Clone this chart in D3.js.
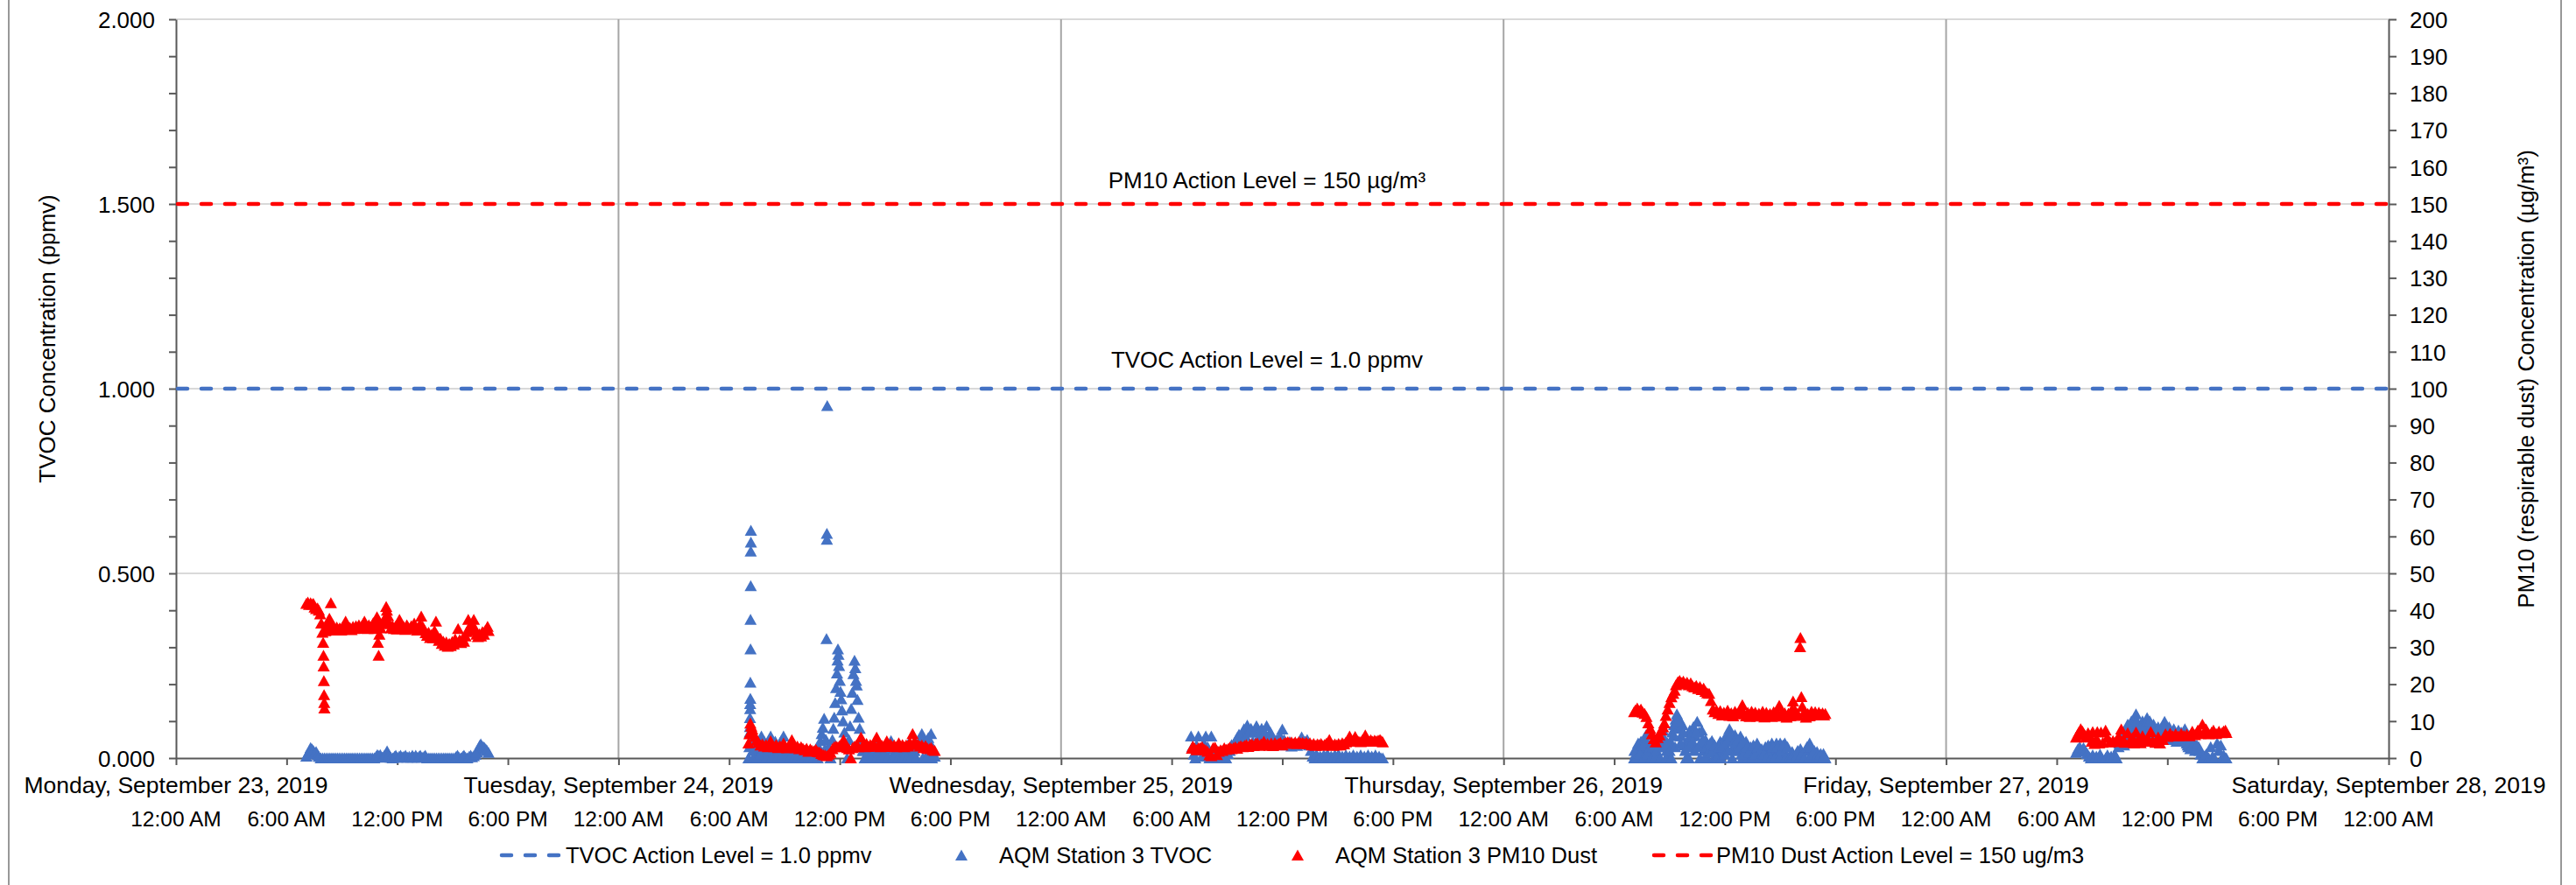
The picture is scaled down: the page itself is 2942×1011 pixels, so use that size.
<!DOCTYPE html>
<html>
<head>
<meta charset="utf-8">
<script src="https://cdn.jsdelivr.net/npm/d3@7"></script>
<style>
  body { margin: 0; background: #fff; }
  text { font-family: "Liberation Sans", Arial, sans-serif; }
</style>
</head>
<body>
<div id="chart"></div>
<script>
// days covered by the x axis (first = Monday 23)
var dayLabels = ["2019-09-23", "2019-09-24", "2019-09-25", "2019-09-26", "2019-09-27", "2019-09-28"];

// readings as [hour of day, value]; TVOC in ppmv, PM10 in ug/m3
var tvocMon = [[7.07,0.005],[7.15,0.012],[7.22,0.018],[7.30,0.028],[7.38,0.024],[7.45,0.020],[7.52,0.014],[7.60,0.017],[7.68,0.008],[7.75,0.004],[7.85,0],[7.95,0],[8.05,0],[8.15,0],[8.25,0],[8.35,0],[8.45,0],[8.55,0],[8.65,0],[8.75,0],[8.85,0],[8.95,0],[9.05,0],[9.15,0],[9.25,0],[9.35,0],[9.45,0],[9.55,0],[9.65,0],[9.75,0],[9.85,0],[9.95,0],[10.05,0],[10.15,0],[10.25,0],[10.35,0],[10.45,0],[10.55,0],[10.65,0],[10.75,0],[10.85,0.004],[10.92,0.009],[11.00,0.006],[11.08,0.009],[11.18,0.002],[11.28,0.006],[11.38,0.012],[11.45,0.019],[11.55,0.008],[11.65,0.002],[11.75,0],[11.85,0.004],[11.92,0.007],[12.00,0.002],[12.10,0.004],[12.18,0.007],[12.27,0.002],[12.35,0.004],[12.45,0.007],[12.55,0.002],[12.65,0.004],[12.75,0.002],[12.82,0.007],[12.90,0.002],[13.00,0.007],[13.10,0.002],[13.18,0.004],[13.25,0.007],[13.35,0.002],[13.45,0.004],[13.52,0.007],[13.62,0],[13.72,0],[13.82,0],[13.92,0],[14.02,0],[14.12,0],[14.22,0],[14.32,0],[14.42,0],[14.52,0],[14.62,0],[14.72,0],[14.82,0],[14.92,0],[15.02,0],[15.12,0],[15.20,0.004],[15.27,0.007],[15.35,0.002],[15.45,0],[15.55,0.004],[15.62,0.007],[15.70,0.002],[15.80,0],[15.90,0.004],[15.98,0.007],[16.05,0.003],[16.15,0.006],[16.25,0.010],[16.32,0.016],[16.40,0.025],[16.47,0.034],[16.53,0.038],[16.60,0.032],[16.67,0.030],[16.73,0.028],[16.80,0.024],[16.87,0.020],[16.95,0.015]];

var pm10Mon = [[7.07,41.8],[7.15,42.2],[7.22,41.5],[7.30,42.0],[7.38,41.6],[7.45,41.8],[7.52,40.8],[7.60,40.4],[7.68,40.6],[7.75,40.0],[7.82,39.0],[7.88,36.5],[7.94,34.0],[7.98,31.3],[8.00,27.8],[8.01,24.9],[8.02,20.9],[8.03,17.1],[8.04,15.0],[8.05,13.5],[8.10,34.4],[8.18,35.5],[8.25,36.6],[8.32,37.8],[8.40,42.0],[8.48,36.2],[8.55,35.0],[8.63,34.6],[8.72,35.4],[8.80,34.8],[8.88,35.2],[8.96,34.6],[9.04,35.5],[9.12,36.0],[9.20,37.0],[9.28,35.6],[9.36,34.9],[9.44,35.3],[9.52,34.7],[9.60,35.6],[9.68,35.0],[9.76,35.8],[9.84,35.1],[9.92,36.0],[10.00,35.2],[10.08,35.8],[10.16,36.4],[10.22,37.0],[10.30,35.5],[10.38,35.0],[10.46,36.0],[10.54,35.3],[10.62,35.8],[10.70,36.6],[10.78,35.0],[10.85,37.2],[10.90,38.2],[10.95,31.3],[10.99,27.8],[11.03,33.5],[11.10,35.2],[11.18,36.5],[11.26,37.0],[11.34,38.0],[11.40,41.0],[11.44,40.0],[11.50,38.5],[11.58,36.3],[11.66,35.2],[11.74,35.8],[11.82,35.0],[11.90,35.6],[11.98,34.9],[12.06,36.0],[12.12,37.5],[12.20,35.6],[12.28,35.0],[12.36,35.5],[12.44,34.8],[12.52,36.0],[12.60,35.3],[12.68,35.0],[12.76,35.8],[12.84,35.2],[12.92,36.5],[13.00,35.0],[13.08,34.6],[13.16,35.5],[13.24,36.2],[13.30,38.4],[13.38,35.6],[13.46,34.8],[13.54,33.9],[13.62,33.2],[13.70,34.0],[13.78,32.6],[13.86,33.4],[13.94,32.5],[14.02,34.5],[14.10,37.0],[14.18,33.0],[14.26,31.8],[14.34,32.4],[14.42,31.0],[14.50,31.6],[14.58,30.5],[14.66,31.4],[14.74,30.2],[14.82,31.0],[14.90,30.4],[14.98,31.5],[15.06,30.8],[15.14,32.2],[15.22,31.3],[15.30,35.0],[15.38,32.0],[15.46,31.2],[15.54,32.3],[15.62,31.6],[15.70,33.0],[15.78,34.2],[15.85,37.5],[15.92,35.5],[16.00,36.2],[16.08,34.5],[16.15,37.5],[16.22,35.0],[16.30,33.5],[16.38,32.8],[16.46,33.6],[16.54,33.0],[16.62,34.2],[16.70,33.5],[16.78,34.6],[16.86,35.0],[16.90,35.6],[16.95,34.5]];

var tvocTue = [[7.05,0.00],[7.10,0.03],[7.12,0.07],[7.13,0.085],[7.13,0.109],[7.14,0.133],[7.14,0.147],[7.15,0.161],[7.15,0.205],[7.16,0.295],[7.16,0.375],[7.17,0.466],[7.17,0.560],[7.18,0.584],[7.18,0.616],[7.22,0.05],[7.28,0.02],[7.35,0.045],[7.45,0.01],[7.55,0.03],[7.65,0.0],[7.75,0.059],[7.85,0.02],[7.95,0.0],[8.05,0.035],[8.15,0.01],[8.25,0.059],[8.35,0.015],[8.45,0.0],[8.55,0.03],[8.65,0.01],[8.75,0.035],[8.85,0.0],[8.95,0.059],[9.05,0.02],[9.15,0.0],[9.25,0.025],[9.35,0.0],[9.45,0.015],[9.55,0.0],[9.65,0.02],[9.75,0.0],[9.85,0.01],[9.95,0.0],[10.05,0.02],[10.15,0.0],[10.25,0.01],[10.35,0.0],[10.45,0.015],[10.55,0.0],[10.65,0.01],[10.75,0.0],[10.85,0.03],[10.95,0.047],[11.02,0.066],[11.08,0.083],[11.15,0.107],[11.20,0.025],[11.25,0.05],[11.28,0.323],[11.30,0.592],[11.30,0.608],[11.32,0.954],[11.40,0.03],[11.50,0.0],[11.60,0.05],[11.65,0.08],[11.70,0.11],[11.75,0.15],[11.80,0.19],[11.85,0.23],[11.88,0.265],[11.90,0.295],[11.93,0.28],[11.96,0.25],[12.00,0.21],[12.04,0.18],[12.08,0.16],[12.12,0.13],[12.18,0.10],[12.25,0.07],[12.32,0.04],[12.40,0.0],[12.50,0.05],[12.56,0.087],[12.62,0.134],[12.68,0.178],[12.74,0.228],[12.80,0.264],[12.84,0.244],[12.88,0.21],[12.92,0.197],[12.96,0.158],[13.02,0.11],[13.08,0.08],[13.15,0.05],[13.25,0.02],[13.35,0.0],[13.45,0.03],[13.55,0.0],[13.65,0.02],[13.75,0.025],[13.85,0.0],[13.95,0.015],[14.05,0.03],[14.15,0.0],[14.25,0.02],[14.35,0.0],[14.45,0.02],[14.55,0.0],[14.65,0.03],[14.78,0.047],[14.90,0.01],[15.00,0.0],[15.10,0.02],[15.20,0.03],[15.30,0.0],[15.40,0.01],[15.50,0.0],[15.60,0.02],[15.70,0.035],[15.80,0.01],[15.90,0.0],[16.00,0.02],[16.10,0.0],[16.20,0.03],[16.30,0.045],[16.45,0.066],[16.55,0.05],[16.65,0.03],[16.75,0.01],[16.85,0.045],[16.95,0.066],[17.05,0.02],[17.15,0.005],
  [7.30,0.0],[7.40,0.025],[7.50,0.0],[7.60,0.04],[7.70,0.01],[7.80,0.03],[7.90,0.045],[8.00,0.0],[8.10,0.02],[8.20,0.04],[8.30,0.0],[8.40,0.03],[8.50,0.045],[8.60,0.0],[8.70,0.02],[8.80,0.045],[8.90,0.01],[9.00,0.035],[9.10,0.0],[9.20,0.02],[9.30,0.0],[9.40,0.01],[9.50,0.0],[9.60,0.005],[9.70,0.0],[9.80,0.01],[9.90,0.0],[10.00,0.005],[10.10,0.0],[10.20,0.01],[10.30,0.0],[10.40,0.0],[10.50,0.01],[10.60,0.0],[10.70,0.02],[10.80,0.0],[13.30,0.02],[13.40,0.0],[13.50,0.015],[13.60,0.03],[13.70,0.0],[13.80,0.02],[13.90,0.035],[14.00,0.0],[14.10,0.02],[14.20,0.0],[14.30,0.03],[14.40,0.01],[14.50,0.025],[14.60,0.0],[14.70,0.035],[14.85,0.0],[14.95,0.03],[15.05,0.01],[15.15,0.0],[15.25,0.025],[15.35,0.0],[15.45,0.03],[15.55,0.01],[15.65,0.0],[15.75,0.04],[15.85,0.0],[15.95,0.03],[16.05,0.02],[16.15,0.0],[16.25,0.035],[16.40,0.05],[16.50,0.0],[16.60,0.04],[16.70,0.0],[16.80,0.055],[16.90,0.03],[17.00,0.0],[17.10,0.01]];

var pm10Tue = [[7.05,4.0],[7.10,6.5],[7.15,9.4],[7.20,8.6],[7.25,7.8],[7.30,6.8],[7.40,5.8],[7.50,4.8],[7.60,4.2],[7.70,3.5],[7.80,3.8],[7.90,3.2],[8.00,3.6],[8.10,3.0],[8.25,4.6],[8.35,3.4],[8.45,3.0],[8.55,3.6],[8.65,2.8],[8.75,3.3],[8.85,2.9],[8.95,4.0],[9.05,3.0],[9.15,2.7],[9.25,3.4],[9.40,4.9],[9.50,3.5],[9.60,2.8],[9.70,3.2],[9.80,2.5],[9.90,3.0],[10.00,2.6],[10.10,2.2],[10.20,2.6],[10.30,1.8],[10.40,2.4],[10.50,2.0],[10.60,1.9],[10.70,2.3],[10.80,1.7],[10.90,1.6],[11.00,1.2],[11.10,0.9],[11.20,0.8],[11.30,0.6],[11.40,1.0],[11.50,1.5],[11.60,2.5],[11.70,3.0],[11.80,3.2],[11.90,3.0],[12.00,3.4],[12.10,3.8],[12.20,4.9],[12.30,3.3],[12.40,2.8],[12.50,2.4],[12.60,0.0],[12.70,2.8],[12.80,3.2],[12.90,3.5],[13.00,3.0],[13.15,5.6],[13.25,3.4],[13.35,3.0],[13.45,3.9],[13.55,3.1],[13.65,3.6],[13.75,3.2],[13.85,3.7],[14.00,5.6],[14.10,3.5],[14.20,3.0],[14.30,3.4],[14.40,3.1],[14.55,4.6],[14.65,3.3],[14.75,3.8],[14.85,3.1],[14.95,3.5],[15.05,3.0],[15.20,4.1],[15.30,3.2],[15.40,3.6],[15.50,3.0],[15.60,3.5],[15.70,3.2],[15.80,4.2],[15.95,6.6],[16.05,4.5],[16.15,3.8],[16.25,3.6],[16.35,3.2],[16.45,3.5],[16.55,2.8],[16.65,3.3],[16.75,2.6],[16.85,2.5],[16.95,2.8],[17.05,2.2],[17.15,2.0]];

var tvocWed = [[7.05,0.059],[7.12,0.03],[7.20,0.01],[7.28,0.0],[7.35,0.035],[7.45,0.059],[7.55,0.02],[7.65,0.005],[7.75,0.04],[7.85,0.059],[7.95,0.03],[8.05,0.0],[8.15,0.059],[8.25,0.02],[8.35,0.0],[8.45,0.02],[8.55,0.0],[8.65,0.015],[8.75,0.0],[8.85,0.019],[8.95,0.0],[9.05,0.012],[9.15,0.02],[9.25,0.036],[9.35,0.03],[9.45,0.045],[9.55,0.055],[9.65,0.064],[9.75,0.05],[9.85,0.07],[9.92,0.079],[10.00,0.06],[10.10,0.089],[10.20,0.07],[10.30,0.08],[10.40,0.045],[10.50,0.07],[10.60,0.087],[10.70,0.055],[10.80,0.072],[10.88,0.08],[10.95,0.05],[11.05,0.068],[11.15,0.087],[11.25,0.06],[11.35,0.07],[11.45,0.059],[11.55,0.04],[11.62,0.045],[11.70,0.05],[11.80,0.04],[11.88,0.06],[12.00,0.078],[12.10,0.05],[12.20,0.035],[12.30,0.04],[12.40,0.044],[12.50,0.032],[12.60,0.036],[12.70,0.04],[12.80,0.034],[12.90,0.038],[13.05,0.057],[13.15,0.04],[13.25,0.045],[13.35,0.05],[13.45,0.035],[13.55,0.02],[13.65,0.005],[13.75,0.0],[13.85,0.01],[13.95,0.0],[14.05,0.005],[14.15,0.0],[14.25,0.008],[14.35,0.0],[14.45,0.01],[14.55,0.0],[14.65,0.005],[14.75,0.0],[14.85,0.008],[14.95,0.0],[15.05,0.01],[15.15,0.0],[15.25,0.005],[15.35,0.0],[15.45,0.008],[15.55,0.0],[15.65,0.005],[15.75,0.0],[15.85,0.008],[15.95,0.0],[16.05,0.005],[16.15,0.0],[16.25,0.008],[16.35,0.0],[16.45,0.005],[16.55,0.0],[16.65,0.008],[16.75,0.0],[16.85,0.005],[16.95,0.0],[17.05,0.008],[17.15,0.0],[17.25,0.005],[17.35,0.0],[17.45,0.0]];

var pm10Wed = [[7.10,2.6],[7.15,3.2],[7.25,2.6],[7.35,2.2],[7.45,2.7],[7.55,2.8],[7.65,3.0],[7.75,2.4],[7.85,2.2],[7.95,1.8],[8.05,0.8],[8.15,0.6],[8.25,2.8],[8.35,2.9],[8.45,0.9],[8.55,1.8],[8.65,2.2],[8.75,2.0],[8.85,2.7],[8.95,2.3],[9.05,2.5],[9.15,2.9],[9.25,2.5],[9.35,2.8],[9.45,3.0],[9.55,2.6],[9.65,3.1],[9.75,3.3],[9.85,3.0],[9.95,3.4],[10.05,3.6],[10.15,3.1],[10.25,3.7],[10.35,3.8],[10.45,3.3],[10.55,3.9],[10.65,4.0],[10.75,3.4],[10.85,3.8],[11.00,4.5],[11.10,3.6],[11.20,3.9],[11.30,3.4],[11.40,4.0],[11.50,3.3],[11.60,4.1],[11.70,3.6],[11.80,3.9],[11.90,4.2],[12.00,3.5],[12.10,4.0],[12.20,4.2],[12.30,4.4],[12.40,4.1],[12.50,4.3],[12.60,3.9],[12.70,4.3],[12.80,3.9],[12.90,4.4],[13.00,4.0],[13.10,4.2],[13.20,3.9],[13.30,4.2],[13.40,3.8],[13.50,4.1],[13.60,3.5],[13.70,3.9],[13.80,3.4],[13.90,3.8],[14.00,3.6],[14.10,3.9],[14.20,3.4],[14.30,3.7],[14.40,4.0],[14.55,5.0],[14.65,3.7],[14.75,3.4],[14.85,3.8],[14.95,3.5],[15.05,3.9],[15.15,3.5],[15.25,4.1],[15.35,3.8],[15.45,4.3],[15.55,4.6],[15.65,5.9],[15.75,4.8],[15.85,4.5],[15.95,5.8],[16.05,4.7],[16.15,4.5],[16.25,4.4],[16.35,4.9],[16.50,6.2],[16.60,4.6],[16.70,4.5],[16.80,4.9],[16.90,4.5],[17.00,4.8],[17.10,4.6],[17.20,4.8],[17.30,5.0],[17.38,4.6],[17.45,4.3]];

var tvocThu = [[7.08,0.0],[7.15,0.01],[7.25,0.03],[7.35,0.0],[7.45,0.045],[7.55,0.02],[7.65,0.055],[7.73,0.063],[7.85,0.03],[7.95,0.0],[8.05,0.04],[8.15,0.015],[8.25,0.05],[8.35,0.0],[8.45,0.03],[8.55,0.06],[8.65,0.075],[8.75,0.05],[8.85,0.02],[8.95,0.0],[9.05,0.045],[9.15,0.07],[9.25,0.09],[9.33,0.105],[9.40,0.119],[9.47,0.08],[9.55,0.103],[9.62,0.06],[9.70,0.09],[9.80,0.035],[9.90,0.0],[10.00,0.05],[10.10,0.075],[10.20,0.03],[10.30,0.085],[10.40,0.06],[10.50,0.099],[10.60,0.07],[10.68,0.04],[10.75,0.075],[10.85,0.02],[10.95,0.05],[11.05,0.0],[11.15,0.03],[11.30,0.047],[11.40,0.0],[11.50,0.025],[11.60,0.01],[11.75,0.045],[11.85,0.02],[11.95,0.05],[12.05,0.03],[12.15,0.065],[12.25,0.079],[12.35,0.05],[12.45,0.03],[12.55,0.063],[12.65,0.04],[12.75,0.02],[12.85,0.059],[12.95,0.0],[13.05,0.03],[13.15,0.045],[13.25,0.0],[13.40,0.03],[13.50,0.01],[13.60,0.025],[13.75,0.04],[13.85,0.02],[13.95,0.01],[14.05,0.0],[14.20,0.03],[14.30,0.015],[14.45,0.02],[14.55,0.04],[14.65,0.01],[14.80,0.04],[14.90,0.02],[15.00,0.04],[15.10,0.0],[15.25,0.04],[15.35,0.01],[15.50,0.0],[15.65,0.017],[15.75,0.0],[15.90,0.01],[16.10,0.025],[16.25,0.005],[16.40,0.02],[16.60,0.04],[16.70,0.02],[16.80,0.0],[16.90,0.01],[17.00,0.017],[17.10,0.0],[17.25,0.005],[17.35,0.012],[17.45,0.0],
  [7.10,0.02],[7.20,0.0],[7.30,0.04],[7.40,0.01],[7.50,0.035],[7.60,0.0],[7.70,0.045],[7.80,0.01],[7.90,0.025],[8.00,0.0],[8.10,0.03],[8.20,0.0],[8.30,0.02],[8.40,0.045],[8.50,0.0],[8.60,0.05],[8.70,0.03],[8.80,0.0],[8.90,0.04],[9.00,0.02],[9.10,0.0],[9.20,0.06],[9.30,0.03],[9.45,0.1],[9.60,0.04],[9.75,0.07],[9.85,0.02],[9.95,0.03],[10.05,0.0],[10.15,0.06],[10.25,0.045],[10.35,0.02],[10.45,0.07],[10.55,0.03],[10.65,0.0],[10.80,0.05],[10.90,0.0],[11.00,0.03],[11.10,0.015],[11.20,0.04],[11.35,0.02],[11.45,0.035],[11.55,0.0],[11.70,0.03],[11.80,0.0],[11.90,0.035],[12.00,0.01],[12.10,0.045],[12.20,0.02],[12.30,0.06],[12.40,0.0],[12.50,0.045],[12.60,0.02],[12.70,0.05],[12.80,0.03],[12.90,0.01],[13.00,0.045],[13.10,0.02],[13.20,0.03],[13.30,0.015],[13.45,0.0],[13.55,0.035],[13.65,0.01],[13.80,0.03],[13.90,0.0],[14.00,0.025],[14.10,0.01],[14.25,0.0],[14.35,0.035],[14.50,0.0],[14.60,0.03],[14.70,0.0],[14.85,0.03],[14.95,0.0],[15.05,0.02],[15.15,0.035],[15.30,0.0],[15.40,0.03],[15.55,0.005],[15.60,0.0],[15.70,0.01],[15.85,0.0],[15.95,0.02],[16.05,0.0],[16.15,0.01],[16.30,0.0],[16.45,0.03],[16.55,0.0],[16.65,0.03],[16.75,0.01],[16.85,0.02],[16.95,0.0],[17.05,0.01],[17.15,0.0],[17.20,0.012],[17.30,0.0],[17.40,0.005]];

var pm10Thu = [[7.08,12.5],[7.15,13.0],[7.25,13.5],[7.35,12.8],[7.45,13.2],[7.55,12.4],[7.65,12.0],[7.75,11.2],[7.85,9.5],[7.95,8.0],[8.05,6.5],[8.15,5.2],[8.25,4.3],[8.35,5.5],[8.45,6.2],[8.55,7.5],[8.65,8.4],[8.72,9.5],[8.80,11.5],[8.90,13.2],[9.00,15.0],[9.10,16.5],[9.20,17.5],[9.28,18.3],[9.35,19.8],[9.45,20.6],[9.55,21.0],[9.65,20.4],[9.75,20.8],[9.85,20.0],[9.95,20.5],[10.05,19.8],[10.15,20.3],[10.25,19.5],[10.35,19.2],[10.45,19.6],[10.55,18.8],[10.65,19.3],[10.75,18.5],[10.85,18.9],[10.95,18.0],[11.05,17.6],[11.15,17.5],[11.25,15.5],[11.35,13.2],[11.45,12.5],[11.55,12.9],[11.65,12.0],[11.75,12.8],[11.85,11.6],[11.95,12.4],[12.05,11.8],[12.15,12.9],[12.25,11.5],[12.35,12.2],[12.45,11.4],[12.55,12.6],[12.65,11.9],[12.75,12.2],[12.85,13.0],[12.95,14.4],[13.05,12.0],[13.15,11.4],[13.25,12.3],[13.35,11.2],[13.45,12.6],[13.55,11.8],[13.65,12.4],[13.75,11.3],[13.85,12.1],[13.95,11.6],[14.05,12.6],[14.15,11.1],[14.25,12.3],[14.35,11.5],[14.45,12.0],[14.55,11.2],[14.65,12.5],[14.75,11.6],[14.85,12.4],[14.95,14.2],[15.05,12.0],[15.15,11.3],[15.25,12.2],[15.35,11.0],[15.45,12.1],[15.55,11.4],[15.65,13.2],[15.70,15.4],[15.80,13.0],[15.90,12.0],[16.00,11.5],[16.08,30.1],[16.10,32.6],[16.15,16.6],[16.20,14.0],[16.30,12.4],[16.40,11.0],[16.50,12.0],[16.60,11.4],[16.70,12.6],[16.80,11.8],[16.90,12.5],[17.00,11.6],[17.10,12.4],[17.20,11.8],[17.30,12.2],[17.38,11.6],[17.45,12.0]];

var tvocFri = [[7.05,0.015],[7.15,0.025],[7.25,0.03],[7.35,0.018],[7.45,0.028],[7.55,0.02],[7.65,0.012],[7.75,0.005],[7.85,0.0],[7.95,0.008],[8.05,0.0],[8.15,0.005],[8.25,0.0],[8.35,0.01],[8.45,0.0],[8.65,0.0],[8.75,0.008],[8.85,0.0],[8.95,0.005],[9.05,0.0],[9.15,0.01],[9.25,0.0],[9.35,0.03],[9.45,0.05],[9.50,0.063],[9.60,0.045],[9.70,0.07],[9.85,0.091],[9.95,0.07],[10.05,0.1],[10.15,0.08],[10.30,0.119],[10.40,0.09],[10.50,0.075],[10.65,0.1],[10.75,0.08],[10.90,0.109],[11.00,0.085],[11.10,0.07],[11.25,0.091],[11.35,0.06],[11.50,0.084],[11.60,0.065],[11.70,0.05],[11.85,0.099],[11.95,0.07],[12.10,0.084],[12.20,0.06],[12.35,0.079],[12.45,0.055],[12.60,0.075],[12.70,0.05],[12.85,0.065],[12.95,0.079],[13.05,0.04],[13.15,0.03],[13.25,0.025],[13.40,0.035],[13.55,0.028],[13.70,0.03],[13.80,0.01],[13.90,0.0],[14.00,0.005],[14.10,0.01],[14.25,0.0],[14.35,0.03],[14.45,0.005],[14.55,0.0],[14.70,0.04],[14.80,0.02],[14.90,0.035],[15.00,0.0],[15.05,0.008],[15.15,0.0],[15.20,0.0],
  [9.40,0.04],[9.55,0.055],[9.65,0.035],[9.75,0.06],[9.80,0.08],[9.90,0.05],[10.00,0.075],[10.10,0.06],[10.20,0.095],[10.25,0.07],[10.35,0.1],[10.45,0.06],[10.55,0.085],[10.60,0.05],[10.70,0.09],[10.80,0.06],[10.85,0.095],[10.95,0.07],[11.05,0.1],[11.15,0.06],[11.20,0.08],[11.30,0.07],[11.40,0.05],[11.45,0.075],[11.55,0.06],[11.65,0.08],[11.75,0.07],[11.80,0.085],[11.90,0.06],[12.00,0.075],[12.05,0.05],[12.15,0.07],[12.25,0.065],[12.30,0.05],[12.40,0.07],[12.50,0.045],[12.55,0.065],[12.65,0.06],[12.75,0.07],[12.80,0.045],[12.90,0.06],[13.00,0.05],[13.10,0.035],[13.20,0.045],[13.30,0.03],[13.45,0.04],[13.50,0.02],[13.60,0.035],[13.75,0.02]];

var pm10Fri = [[7.05,5.6],[7.12,6.2],[7.20,7.0],[7.30,7.9],[7.40,7.2],[7.50,6.4],[7.60,5.6],[7.70,6.8],[7.80,6.0],[7.90,4.5],[7.95,7.1],[8.05,3.9],[8.15,5.2],[8.20,7.1],[8.30,4.0],[8.40,7.0],[8.50,4.2],[8.65,7.5],[8.75,5.5],[8.90,4.3],[9.05,4.7],[9.20,4.4],[9.35,5.8],[9.50,7.8],[9.60,5.0],[9.70,4.2],[9.85,6.8],[9.95,4.5],[10.10,5.5],[10.20,4.0],[10.30,7.0],[10.40,4.8],[10.55,4.1],[10.65,6.0],[10.80,4.5],[10.95,5.2],[11.10,7.1],[11.20,4.6],[11.35,4.2],[11.50,5.7],[11.60,4.0],[11.75,5.0],[11.90,6.5],[12.00,5.8],[12.15,6.7],[12.30,6.0],[12.45,6.5],[12.60,5.9],[12.75,6.6],[12.90,6.1],[13.05,6.4],[13.20,6.0],[13.35,7.2],[13.50,6.3],[13.65,7.5],[13.80,6.6],[13.90,9.1],[14.00,7.0],[14.10,7.8],[14.25,6.5],[14.40,7.0],[14.50,7.5],[14.65,6.6],[14.80,7.2],[14.95,6.8],[15.05,7.3],[15.15,7.5],[15.20,6.9]];

var tvocAction = 1.0;
var pm10Action = 150;

var leftTicks = [0, 0.1, 0.2, 0.3, 0.4, 0.5, 0.6, 0.7, 0.8, 0.9, 1.0, 1.1, 1.2, 1.3, 1.4, 1.5, 1.6, 1.7, 1.8, 1.9, 2.0];
var rightTicks = [0, 10, 20, 30, 40, 50, 60, 70, 80, 90, 100, 110, 120, 130, 140, 150, 160, 170, 180, 190, 200];

var legendNames = ["TVOC Action Level = 1.0 ppmv", "AQM Station 3 TVOC", "AQM Station 3 PM10 Dust", "PM10 Dust Action Level = 150 ug/m3"];

var blue = "#4472C4", red = "#FF0000";
var width = 2942, height = 1011;
var plot = {left: 201, right: 2728, top: 22, bottom: 866};

var svg = d3.select("#chart").append("svg")
    .attr("width", width)
    .attr("height", height);

svg.append("rect").attr("width", width).attr("height", height).attr("fill", "#fff");

// outer chart frame (only the sides are in view)
svg.append("line").attr("x1", 10).attr("x2", 10).attr("y1", 0).attr("y2", height)
    .attr("stroke", "#767676").attr("stroke-width", 1.5);
svg.append("line").attr("x1", 2925).attr("x2", 2925).attr("y1", 0).attr("y2", height)
    .attr("stroke", "#767676").attr("stroke-width", 1.5);

function dayStart(i) {
    var p = dayLabels[i].split("-");
    return Date.UTC(+p[0], +p[1] - 1, +p[2]);
}

var x = d3.scaleUtc()
    .domain([new Date(dayStart(0)), new Date(dayStart(5))])
    .range([plot.left, plot.right]);
var yL = d3.scaleLinear().domain([0, 2]).range([plot.bottom, plot.top]);
var yR = d3.scaleLinear().domain([0, 200]).range([plot.bottom, plot.top]);

// gridlines
svg.append("g").selectAll("line")
    .data([0.5, 1.0, 1.5, 2.0])
    .enter().append("line")
    .attr("x1", plot.left).attr("x2", plot.right)
    .attr("y1", function(d) { return yL(d); })
    .attr("y2", function(d) { return yL(d); })
    .attr("stroke", "#d9d9d9").attr("stroke-width", 2);

var dayBounds = d3.utcDay.range(new Date(dayStart(1)), new Date(dayStart(5)));
svg.append("g").selectAll("line")
    .data(dayBounds)
    .enter().append("line")
    .attr("x1", function(d) { return x(d); }).attr("x2", function(d) { return x(d); })
    .attr("y1", plot.top).attr("y2", plot.bottom)
    .attr("stroke", "#a6a6a6").attr("stroke-width", 2);

// axes
var gL = svg.append("g")
    .attr("transform", "translate(" + plot.left + ",0)")
    .call(d3.axisLeft(yL).tickValues(leftTicks).tickSize(8).tickSizeOuter(0).tickPadding(16)
        .tickFormat(function(d) { return Math.abs(d * 2 - Math.round(d * 2)) < 1e-9 ? d3.format(".3f")(d) : ""; }));

var gR = svg.append("g")
    .attr("transform", "translate(" + plot.right + ",0)")
    .call(d3.axisRight(yR).tickValues(rightTicks).tickSize(9).tickSizeOuter(0).tickPadding(15));

var gX = svg.append("g")
    .attr("transform", "translate(0," + plot.bottom + ")")
    .call(d3.axisBottom(x).ticks(d3.utcHour.every(6)).tickSize(8).tickSizeOuter(0).tickFormat(""));

[gL, gR, gX].forEach(function(g) {
    g.select(".domain").attr("stroke", "#595959").attr("stroke-width", 2);
    g.selectAll(".tick line").attr("stroke", "#595959").attr("stroke-width", 2);
    g.selectAll("text").attr("fill", "#000").style("font-size", "26px")
        .style("font-family", "'Liberation Sans', Arial, sans-serif").attr("dy", "0.36em");
});

// x labels: dates on the day boundaries, hours on every 6 h tick
var hourFmt = d3.utcFormat("%-I:%M %p");
var dayFmt = d3.utcFormat("%A, %B %-d, %Y");

svg.append("g").selectAll("text")
    .data(d3.utcDay.range(new Date(dayStart(0)), new Date(dayStart(5) + 1)))
    .enter().append("text")
    .attr("x", function(d) { return x(d); })
    .attr("y", 906)
    .attr("text-anchor", "middle")
    .style("font-size", "26.5px")
    .text(function(d) { return dayFmt(d); });

svg.append("g").selectAll("text")
    .data(x.ticks(d3.utcHour.every(6)))
    .enter().append("text")
    .attr("x", function(d) { return x(d); })
    .attr("y", 944)
    .attr("text-anchor", "middle")
    .style("font-size", "24.5px")
    .text(function(d) { return hourFmt(d); });

// axis titles
svg.append("text")
    .attr("transform", "translate(63,387) rotate(-90)")
    .attr("text-anchor", "middle")
    .style("font-size", "26px")
    .text("TVOC Concentration (ppmv)");

svg.append("text")
    .attr("transform", "translate(2894,433) rotate(-90)")
    .attr("text-anchor", "middle")
    .style("font-size", "26px")
    .text("PM10 (respirable dust) Concentration (µg/m³)");

// action levels
var dashed = "11,16";
svg.append("line")
    .attr("x1", plot.left + 2).attr("x2", plot.right)
    .attr("y1", yL(tvocAction)).attr("y2", yL(tvocAction))
    .attr("stroke", blue).attr("stroke-width", 4.5)
    .attr("stroke-dasharray", dashed).attr("stroke-linecap", "round");

// measured points
function toPoints(rows, dayIndex) {
    return rows.map(function(r) {
        return {t: new Date(dayStart(dayIndex) + r[0] * 3600000), v: r[1]};
    });
}

var tvocData = [].concat(toPoints(tvocMon, 0), toPoints(tvocTue, 1), toPoints(tvocWed, 2),
    toPoints(tvocThu, 3), toPoints(tvocFri, 4));
var pm10Data = [].concat(toPoints(pm10Mon, 0), toPoints(pm10Tue, 1), toPoints(pm10Wed, 2),
    toPoints(pm10Thu, 3), toPoints(pm10Fri, 4));

var tri = "M0,-6.5L7,6L-7,6Z";

svg.append("g").selectAll("path")
    .data(tvocData)
    .enter().append("path")
    .attr("d", tri)
    .attr("transform", function(d) { return "translate(" + x(d.t) + "," + yL(d.v) + ")"; })
    .attr("fill", blue);

svg.append("g").selectAll("path")
    .data(pm10Data)
    .enter().append("path")
    .attr("d", tri)
    .attr("transform", function(d) { return "translate(" + x(d.t) + "," + yR(d.v) + ")"; })
    .attr("fill", red);

svg.append("line")
    .attr("x1", plot.left + 2).attr("x2", plot.right)
    .attr("y1", yR(pm10Action)).attr("y2", yR(pm10Action))
    .attr("stroke", red).attr("stroke-width", 4.5)
    .attr("stroke-dasharray", dashed).attr("stroke-linecap", "round");

// annotations
svg.append("text").attr("x", 1447).attr("y", 215).attr("text-anchor", "middle")
    .style("font-size", "26px").text("PM10 Action Level = 150 µg/m³");
svg.append("text").attr("x", 1447).attr("y", 420).attr("text-anchor", "middle")
    .style("font-size", "26px").text("TVOC Action Level = 1.0 ppmv");

// legend
var ly = 977;
var legend = svg.append("g");
legend.append("line").attr("x1", 573).attr("x2", 639).attr("y1", ly).attr("y2", ly)
    .attr("stroke", blue).attr("stroke-width", 4.5)
    .attr("stroke-dasharray", dashed).attr("stroke-linecap", "round");
legend.append("path").attr("d", tri).attr("transform", "translate(1098," + ly + ")").attr("fill", blue);
legend.append("path").attr("d", tri).attr("transform", "translate(1482," + ly + ")").attr("fill", red);
legend.append("line").attr("x1", 1889).attr("x2", 1954).attr("y1", ly).attr("y2", ly)
    .attr("stroke", red).attr("stroke-width", 4.5)
    .attr("stroke-dasharray", dashed).attr("stroke-linecap", "round");

legend.selectAll("text")
    .data(legendNames)
    .enter().append("text")
    .attr("x", function(d, i) { return [646, 1141, 1525, 1960][i]; })
    .attr("y", 986)
    .style("font-size", "25.5px")
    .text(function(d) { return d; });
</script>
</body>
</html>
